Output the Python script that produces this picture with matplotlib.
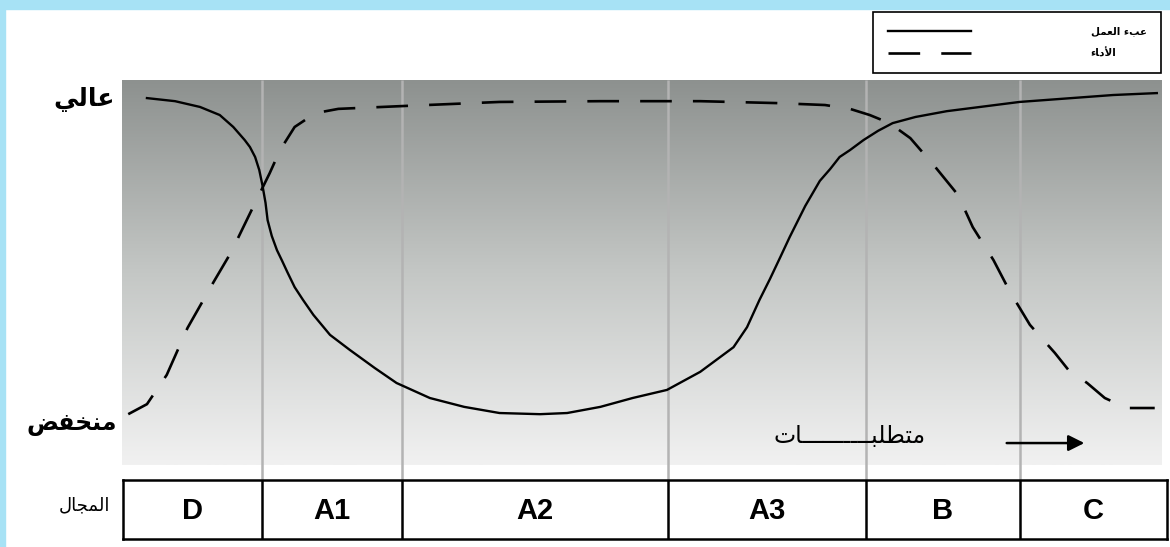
import numpy as np
import matplotlib.pyplot as plt
from matplotlib.colors import LinearSegmentedColormap
from matplotlib.patches import Rectangle

# Workload (solid) and performance (dashed) along the domain axis, level 0..100
workload_x = [2.4, 5.1, 7.5, 9.4, 10.7, 11.8, 12.3, 12.8, 13.2, 13.5, 13.8, 14.0,
              14.4, 14.9, 15.4, 15.9, 16.6, 17.4, 18.4, 20.0, 21.9, 24.3, 26.4,
              29.6, 32.9, 36.3, 40.2, 42.8, 46.0, 49.1, 52.4, 55.6, 58.8, 60.1,
              61.3, 62.3, 63.3, 64.2, 65.7, 67.1, 68.1, 69.0, 70.0, 71.3, 72.7,
              74.1, 76.3, 79.3, 86.3, 95.3, 99.5]
workload_y = [95.3, 94.5, 93.0, 90.9, 87.8, 84.4, 82.6, 80.0, 76.6, 72.7, 68.1, 63.6,
              59.5, 55.8, 53.0, 50.1, 46.2, 42.9, 39.0, 33.8, 29.9, 25.2, 21.3,
              17.4, 15.1, 13.5, 13.2, 13.5, 15.1, 17.4, 19.5, 24.2, 30.6, 35.8,
              42.9, 48.3, 54.0, 59.2, 67.3, 73.8, 76.9, 80.0, 81.8, 84.4, 86.8,
              88.8, 90.4, 91.9, 94.3, 96.1, 96.6]

perf_x = [0.6, 2.4, 4.3, 6.3, 8.8, 10.5, 12.8, 14.2, 15.2, 16.6, 18.6, 20.8, 26.7,
          36.3, 46.0, 55.6, 63.0, 67.6, 70.0, 71.9, 73.8, 75.8, 78.2, 80.4, 81.8,
          83.8, 85.4, 87.3, 89.7, 91.0, 92.8, 94.5, 96.6, 99.3]
perf_y = [13.2, 15.8, 23.4, 35.6, 47.5, 55.3, 68.1, 75.8, 81.8, 87.8, 91.4, 92.5,
          93.2, 94.3, 94.5, 94.5, 94.0, 93.5, 92.5, 90.9, 88.8, 84.9, 77.4, 70.1,
          61.8, 53.2, 44.9, 36.4, 29.1, 24.7, 21.3, 17.4, 14.8, 14.8]

# domain boundaries and names
zone_edges = [13.5, 26.9, 52.5, 71.5, 86.3]
zone_labels = ['D', 'A1', 'A2', 'A3', 'B', 'C']

# Arabic labels (pre-shaped presentation forms, visual order)
lbl_high = '\ufef2\ufedf\ufe8e\ufecb'                      # عالي
lbl_low = '\ufebe\ufed4\ufea8\ufee8\ufee3'                 # منخفض
lbl_domain = '\ufedd\ufe8e\ufea0\ufee4\ufedf\ufe8d'        # المجال
lbl_req = '\ufe95\ufe8e' + '\u0640' * 10 + '\ufe92\ufee0\ufec4\ufe98\ufee3'  # متطلبات
lbl_work = '\ufede\ufee4\ufecc\ufedf\ufe8d \ufe80\ufe90\ufecb'  # عبء العمل
lbl_perf = '\ufe80\ufe8e\ufea9\ufef7\ufe8d'                # الأداء

W, H = 1170, 547


def px_box(l, t, r, b):
    return [l / W, 1 - b / H, (r - l) / W, (b - t) / H]


fig = plt.figure(figsize=(W / 100, H / 100), dpi=100)
fig.patch.set_facecolor('white')

# light blue frame along top and left
fig.patches.append(Rectangle((0, 1 - 9 / H), 1, 9 / H, transform=fig.transFigure,
                             color='#a7e2f5', zorder=0))
fig.patches.append(Rectangle((0, 0), 5 / W, 1, transform=fig.transFigure,
                             color='#a7e2f5', zorder=0))

ax = fig.add_axes(px_box(122, 80, 1162, 465))
ax.set_xlim(0, 100)
ax.set_ylim(0, 100)
ax.axis('off')

grey = LinearSegmentedColormap.from_list('panel', ['#8d918f', '#c4c7c5', '#f1f1f1'])
ax.imshow(np.linspace(0, 1, 256)[:, None], cmap=grey, aspect='auto',
          extent=[0, 100, 0, 100], zorder=0)

vl = ax.vlines(zone_edges, -3.9, 100, color='#b3b3b3', lw=1.8, zorder=1)
vl.set_clip_on(False)

ax.plot(workload_x, workload_y, color='black', lw=1.7, label=lbl_work, zorder=3,
        solid_joinstyle='round')
ax.plot(perf_x, perf_y, color='black', lw=1.9, linestyle=(0, (12, 8)),
        label=lbl_perf, zorder=3)

ax.text(70.0, 7.5, lbl_req, ha='center', va='center', fontsize=17,
        family='DejaVu Sans', zorder=4)
ax.annotate('', xy=(92.8, 5.7), xytext=(84.8, 5.7),
            arrowprops=dict(arrowstyle='-|>', color='black', lw=1.8,
                            mutation_scale=24))

leg = ax.legend(loc='upper left', bbox_to_anchor=(873 / W, 1 - 12 / H),
                bbox_transform=fig.transFigure, borderaxespad=0, fancybox=False,
                edgecolor='black', framealpha=1, handlelength=8, handletextpad=11.5,
                labelspacing=1.1, borderpad=1.4,
                prop={'family': 'DejaVu Sans', 'size': 7.5, 'weight': 'bold'})
leg.get_frame().set_linewidth(1.2)

# row of domain boxes
rax = fig.add_axes(px_box(123, 480, 1167, 539))
rax.set_xlim(0.1, 100.48)
rax.set_ylim(0, 1)
rax.set_xticks([])
rax.set_yticks([])
for s in rax.spines.values():
    s.set_linewidth(1.8)
rax.vlines(zone_edges, 0, 1, color='black', lw=1.8)
bounds = [0.1] + zone_edges + [100.48]
for i, name in enumerate(zone_labels):
    rax.text((bounds[i] + bounds[i + 1]) / 2, 0.47, name, ha='center', va='center',
             fontsize=21, fontweight='bold', family='Liberation Sans')

# level / domain captions on the left
fig.text(84 / W, 1 - 99 / H, lbl_high, ha='center', va='center', fontsize=18,
         fontweight='bold', family='DejaVu Sans')
fig.text(72 / W, 1 - 424 / H, lbl_low, ha='center', va='center', fontsize=17,
         fontweight='bold', family='DejaVu Sans')
fig.text(84 / W, 1 - 505 / H, lbl_domain, ha='center', va='center', fontsize=13,
         family='DejaVu Sans')

fig.savefig('out.png', dpi=100)
